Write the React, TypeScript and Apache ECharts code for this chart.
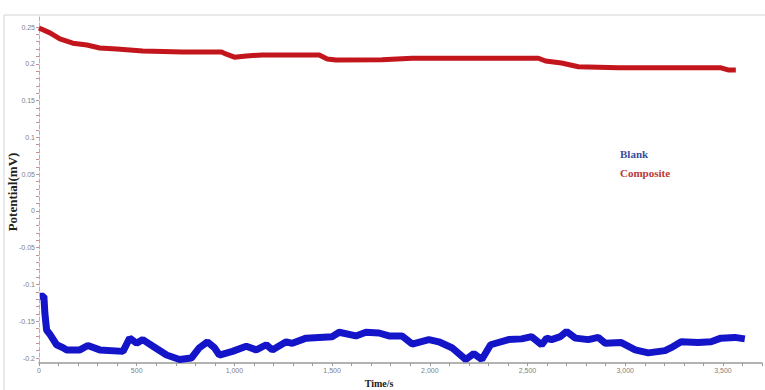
import React, { useEffect, useRef } from "react";
import * as echarts from "echarts";

const blankTime = [5, 25, 30, 39, 56, 90, 123, 142, 209, 250, 311, 430, 464, 500, 531, 583, 653, 719, 780, 821, 862, 898, 923, 990, 1061, 1112, 1163, 1194, 1265, 1296, 1367, 1500, 1536, 1622, 1673, 1740, 1791, 1858, 1910, 1995, 2046, 2113, 2184, 2225, 2266, 2311, 2403, 2470, 2521, 2572, 2598, 2623, 2668, 2700, 2745, 2811, 2862, 2898, 2980, 3051, 3118, 3204, 3235, 3286, 3373, 3439, 3490, 3561, 3612];
const blankValue = [-0.116, -0.116, -0.139, -0.162, -0.168, -0.182, -0.186, -0.189, -0.189, -0.183, -0.189, -0.191, -0.173, -0.18, -0.175, -0.184, -0.196, -0.202, -0.2, -0.186, -0.178, -0.186, -0.196, -0.191, -0.184, -0.189, -0.182, -0.189, -0.178, -0.18, -0.173, -0.171, -0.165, -0.17, -0.165, -0.166, -0.17, -0.17, -0.181, -0.175, -0.178, -0.186, -0.202, -0.194, -0.202, -0.182, -0.175, -0.174, -0.171, -0.182, -0.173, -0.175, -0.171, -0.164, -0.173, -0.175, -0.172, -0.18, -0.179, -0.189, -0.193, -0.19, -0.186, -0.178, -0.179, -0.178, -0.173, -0.172, -0.174];

const compositeTime = [0, 56, 107, 173, 245, 311, 398, 531, 735, 934, 959, 1000, 1061, 1143, 1434, 1475, 1520, 1755, 1910, 2250, 2556, 2592, 2674, 2760, 2964, 3490, 3526, 3566];
const compositeValue = [0.2486, 0.242, 0.2337, 0.228, 0.2255, 0.2215, 0.22, 0.2174, 0.216, 0.216, 0.213, 0.209, 0.2106, 0.212, 0.212, 0.2065, 0.205, 0.2055, 0.2075, 0.2075, 0.2075, 0.2038, 0.201, 0.196, 0.1945, 0.1945, 0.1916, 0.1916];

const seriesNames = ["Blank", "Composite"];
const xTitle = "Time/s";
const yTitle = "Potential(mV)";

export default function App() {
  const ref = useRef<HTMLDivElement>(null);
  useEffect(() => {
    const chart = echarts.init(ref.current!, null, { renderer: "svg" });
    const serif = "'Liberation Serif', 'DejaVu Serif', serif";
    const sans = "'Liberation Sans', Arial, sans-serif";
    chart.setOption({
      animation: false,
      backgroundColor: "#ffffff",
      grid: [
        { left: 39, right: 1, top: 15, bottom: 27 },
        { left: 39, right: 1, top: 27, bottom: 32 },
      ],
      xAxis: [
        {
          gridIndex: 0,
          type: "value",
          min: 0,
          max: 3700,
          interval: 100,
          axisLine: { onZero: false, lineStyle: { color: "#9a9a9a", width: 1.5 } },
          axisTick: { show: true, length: 3, lineStyle: { color: "#9a9a9a" } },
          splitLine: { show: false },
          axisLabel: {
            fontFamily: sans,
            fontSize: 7,
            color: "#808080",
            margin: 4,
            formatter: (v: number) =>
              Math.round(v) % 500 === 0 ? Math.round(v).toLocaleString("en-US") : "",
          },
        },
        {
          gridIndex: 1,
          type: "value",
          min: 0,
          max: 3700,
          show: false,
          axisLine: { onZero: false },
        },
      ],
      yAxis: [
        {
          gridIndex: 0,
          type: "value",
          min: -0.2068,
          max: 0.2663,
          axisLine: { show: true, onZero: false, lineStyle: { color: "#d8a0a0", type: "dashed", width: 1 } },
          axisTick: { show: false },
          axisLabel: { show: false },
          splitLine: { show: false },
        },
        {
          gridIndex: 1,
          type: "value",
          min: -0.2,
          max: 0.25,
          interval: 0.01,
          axisLine: { show: false, onZero: false },
          axisTick: { show: true, length: 3, lineStyle: { color: "#c89090" } },
          splitLine: { show: false },
          axisLabel: {
            fontFamily: sans,
            fontSize: 7,
            color: "#808080",
            margin: 4,
            formatter: (v: number) => {
              const k = Math.round(v * 1000);
              if (k % 50 !== 0) return "";
              return String(k / 1000);
            },
          },
        },
      ],
      series: [
        {
          name: seriesNames[0],
          type: "line",
          xAxisIndex: 0,
          yAxisIndex: 0,
          showSymbol: false,
          clip: false,
          data: blankTime.map((t, i) => [t, blankValue[i]]),
          lineStyle: { color: "#1414c8", width: 7 },
        },
        {
          name: seriesNames[1],
          type: "line",
          xAxisIndex: 0,
          yAxisIndex: 0,
          showSymbol: false,
          clip: false,
          data: compositeTime.map((t, i) => [t, compositeValue[i]]),
          lineStyle: { color: "#c2161c", width: 5 },
        },
      ],
      graphic: [
        { type: "line", shape: { x1: 4, y1: 15, x2: 765, y2: 15 }, style: { stroke: "#d4d4d4", lineWidth: 1 } },
        { type: "line", shape: { x1: 4, y1: 15, x2: 4, y2: 390 }, style: { stroke: "#d4d4d4", lineWidth: 1 } },
        {
          type: "text",
          x: 12,
          y: 192,
          rotation: Math.PI / 2,
          style: {
            text: yTitle,
            fontFamily: serif,
            fontWeight: "bold",
            fontSize: 13,
            fill: "#222",
            align: "center",
            verticalAlign: "middle",
          },
        },
        {
          type: "text",
          x: 379,
          y: 383,
          style: {
            text: xTitle,
            fontFamily: serif,
            fontWeight: "bold",
            fontSize: 10,
            fill: "#222",
            align: "center",
            verticalAlign: "middle",
          },
        },
        {
          type: "text",
          x: 620,
          y: 154,
          style: {
            text: seriesNames[0],
            fontFamily: serif,
            fontWeight: "bold",
            fontSize: 11,
            fill: "#3c4c9c",
            align: "left",
            verticalAlign: "middle",
          },
        },
        {
          type: "text",
          x: 620,
          y: 173,
          style: {
            text: seriesNames[1],
            fontFamily: serif,
            fontWeight: "bold",
            fontSize: 11,
            fill: "#b83838",
            align: "left",
            verticalAlign: "middle",
          },
        },
      ],
    });
    return () => chart.dispose();
  }, []);
  return <div ref={ref} style={{ width: 765, height: 390, position: "absolute", left: 0, top: 0 }} />;
}
